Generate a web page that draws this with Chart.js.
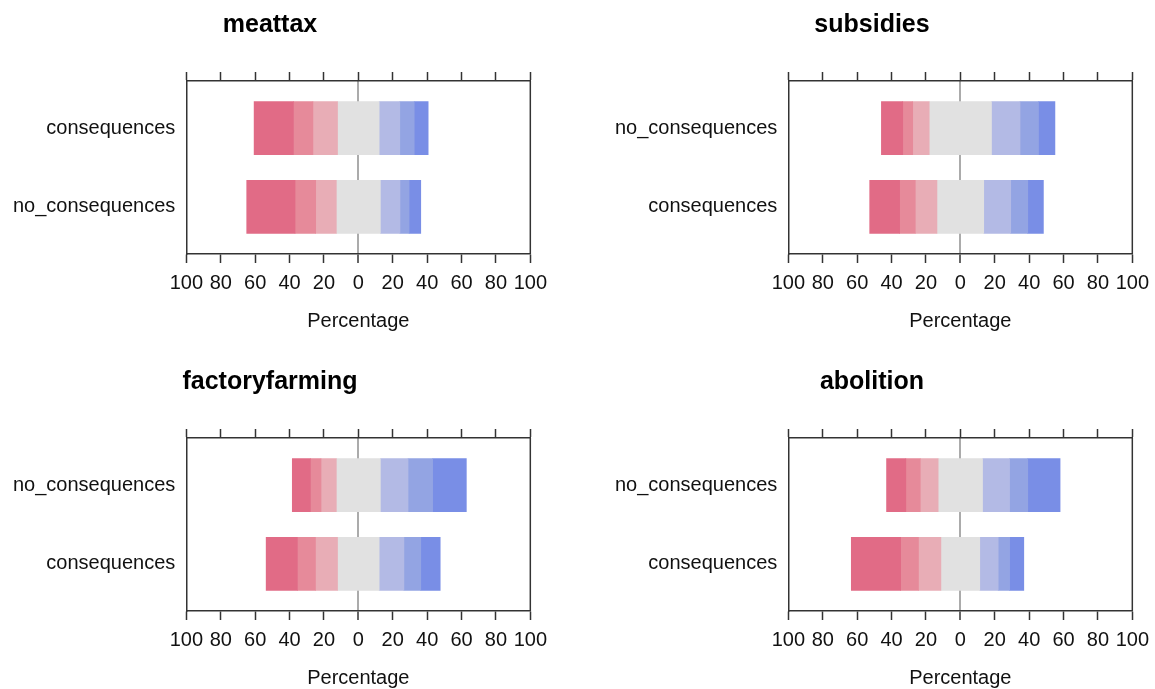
<!DOCTYPE html>
<html>
<head>
<meta charset="utf-8">
<title>Likert panels</title>
<script src="https://cdn.jsdelivr.net/npm/chart.js@4.4.1/dist/chart.umd.min.js"></script>
<style>
    html, body { margin: 0; padding: 0; background: #ffffff; overflow: hidden; }
    .panel { position: absolute; width: 555px; height: 340px; }
</style>
</head>
<body>
<div class="panel" style="left:0px; top:0px;"><canvas id="chart-meattax"></canvas></div>
<div class="panel" style="left:602px; top:0px;"><canvas id="chart-subsidies"></canvas></div>
<div class="panel" style="left:0px; top:357px;"><canvas id="chart-factoryfarming"></canvas></div>
<div class="panel" style="left:602px; top:357px;"><canvas id="chart-abolition"></canvas></div>
<script>
// answer levels, from strongest "against" to strongest "for"
var levels = ['Strongly disagree', 'Disagree', 'Somewhat disagree', 'Neutral', 'Somewhat agree', 'Agree', 'Strongly agree'];
var levelColors = ['#E16B86', '#E68A9A', '#E8ADB6', '#E1E1E1', '#B3BAE5', '#93A4E3', '#798EE6'];

var percentTicks = [-100, -80, -60, -40, -20, 0, 20, 40, 60, 80, 100];

// categories are listed bottom to top
var meattaxCategories = ['no_consequences', 'consequences'];
var meattaxNoConsequences = [28.1, 12.0, 12.0, 25.6, 11.4, 5.3, 6.8];
var meattaxConsequences = [22.9, 11.3, 14.3, 24.2, 12.0, 8.4, 8.1];

var subsidiesCategories = ['consequences', 'no_consequences'];
var subsidiesConsequences = [17.4, 9.1, 12.6, 27.2, 15.7, 9.9, 9.1];
var subsidiesNoConsequences = [12.4, 5.8, 9.6, 36.2, 16.6, 10.7, 9.6];

var factoryfarmingCategories = ['consequences', 'no_consequences'];
var factoryfarmingConsequences = [18.2, 10.5, 12.8, 24.2, 14.4, 9.8, 11.3];
var factoryfarmingNoConsequences = [10.5, 6.2, 8.9, 25.6, 16.1, 14.3, 19.6];

var abolitionCategories = ['consequences', 'no_consequences'];
var abolitionConsequences = [28.7, 10.4, 13.0, 22.6, 10.7, 6.6, 8.3];
var abolitionNoConsequences = [11.2, 8.4, 10.4, 25.8, 15.7, 10.6, 18.8];

Chart.defaults.font.family = '"Liberation Sans", Arial, sans-serif';
Chart.defaults.font.size = 20;
Chart.defaults.color = '#111111';

// right side of the box round the plot area
var frameRight = {
    id: 'frameRight',
    afterDraw: function(chart) {
        var a = chart.chartArea;
        var ctx = chart.ctx;
        ctx.save();
        ctx.strokeStyle = '#333333';
        ctx.lineWidth = 1.5;
        ctx.beginPath();
        ctx.moveTo(a.right, a.top);
        ctx.lineTo(a.right, a.bottom);
        ctx.stroke();
        ctx.restore();
    }
};

// left/right edges of each segment, neutral centred on zero
function segmentBounds(values) {
    var start = -(values[0] + values[1] + values[2] + values[3] / 2);
    return values.map(function(v) {
        var seg = [start, start + v];
        start += v;
        return seg;
    });
}

function buildConfig(title, categories, rows) {
    var bounds = rows.map(segmentBounds);
    var datasets = levels.map(function(name, i) {
        return {
            label: name,
            backgroundColor: levelColors[i],
            borderWidth: 0,
            grouped: false,
            barThickness: 53,
            data: bounds.map(function(b, k) {
                return { y: k + 1, x: b[i] };
            })
        };
    });

    var setTicks = function(scale) {
        scale.ticks = percentTicks.map(function(v) { return { value: v }; });
    };
    var setCatTicks = function(scale) {
        scale.ticks = categories.map(function(c, k) { return { value: k + 1 }; });
    };

    return {
        type: 'bar',
        data: { datasets: datasets },
        plugins: [frameRight],
        options: {
            indexAxis: 'y',
            responsive: true,
            maintainAspectRatio: false,
            animation: false,
            layout: { padding: { left: 2, right: 17, top: 0, bottom: 7 } },
            plugins: {
                legend: { display: false },
                tooltip: { enabled: false },
                title: {
                    display: true,
                    text: title,
                    color: '#000000',
                    font: { size: 25, weight: 'bold' },
                    padding: { top: 10, bottom: 32 }
                }
            },
            scales: {
                x: {
                    type: 'linear',
                    position: 'bottom',
                    min: -100,
                    max: 100,
                    afterBuildTicks: setTicks,
                    ticks: {
                        autoSkip: false,
                        maxRotation: 0,
                        padding: 8,
                        callback: function(v) { return Math.abs(v); }
                    },
                    grid: {
                        drawOnChartArea: true,
                        tickLength: 9,
                        color: function(ctx) {
                            return ctx.tick && ctx.tick.value === 0 ? '#ABABAB' : 'rgba(0,0,0,0)';
                        },
                        lineWidth: function(ctx) {
                            return ctx.tick && ctx.tick.value === 0 ? 2 : 1;
                        },
                        tickColor: '#333333',
                        tickWidth: 1.5
                    },
                    border: { display: true, color: '#333333', width: 1.5 },
                    title: {
                        display: true,
                        text: 'Percentage',
                        padding: { top: 6, bottom: 0 }
                    }
                },
                x2: {
                    type: 'linear',
                    position: 'top',
                    min: -100,
                    max: 100,
                    afterBuildTicks: setTicks,
                    ticks: { display: false },
                    grid: {
                        drawOnChartArea: false,
                        tickLength: 9,
                        tickColor: '#333333',
                        tickWidth: 1.5
                    },
                    border: { display: true, color: '#333333', width: 1.5 }
                },
                y: {
                    type: 'linear',
                    position: 'left',
                    min: 0.4,
                    max: 2.6,
                    offset: false,
                    afterBuildTicks: setCatTicks,
                    ticks: {
                        padding: 11,
                        callback: function(v) { return categories[v - 1]; }
                    },
                    grid: { display: false, drawTicks: false, offset: false },
                    border: { display: true, color: '#333333', width: 1.5 }
                }
            }
        }
    };
}

window.onload = function() {
    new Chart(document.getElementById('chart-meattax'),
        buildConfig('meattax', meattaxCategories, [meattaxNoConsequences, meattaxConsequences]));
    new Chart(document.getElementById('chart-subsidies'),
        buildConfig('subsidies', subsidiesCategories, [subsidiesConsequences, subsidiesNoConsequences]));
    new Chart(document.getElementById('chart-factoryfarming'),
        buildConfig('factoryfarming', factoryfarmingCategories, [factoryfarmingConsequences, factoryfarmingNoConsequences]));
    new Chart(document.getElementById('chart-abolition'),
        buildConfig('abolition', abolitionCategories, [abolitionConsequences, abolitionNoConsequences]));
};
</script>
</body>
</html>
